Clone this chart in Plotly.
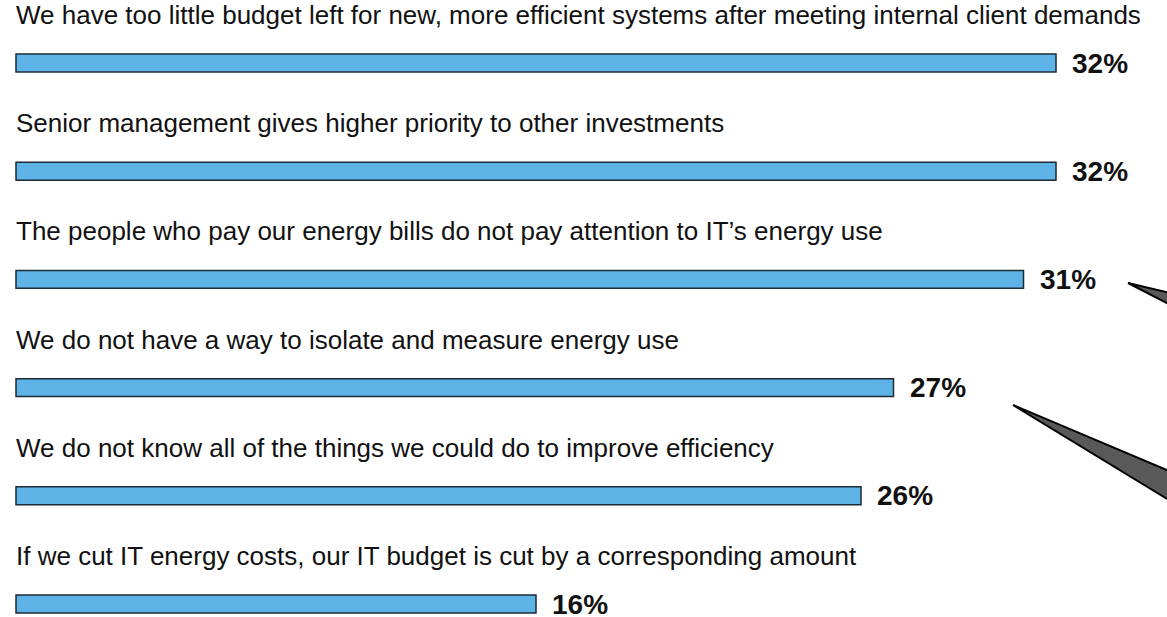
import plotly.graph_objects as go

categories = [
    "We have too little budget left for new, more efficient systems after meeting internal client demands",
    "Senior management gives higher priority to other investments",
    "The people who pay our energy bills do not pay attention to IT\u2019s energy use",
    "We do not have a way to isolate and measure energy use",
    "We do not know all of the things we could do to improve efficiency",
    "If we cut IT energy costs, our IT budget is cut by a corresponding amount",
]
values = [32, 32, 31, 27, 26, 16]
value_labels = ["32%", "32%", "31%", "27%", "26%", "16%"]

W, H = 1167, 617
FONT = "Liberation Sans, Arial, sans-serif"

fig = go.Figure()
fig.add_trace(go.Bar(
    x=values,
    y=categories,
    orientation="h",
    width=0.165,
    marker=dict(color="#5DB3E5", line=dict(color="#1e2a36", width=1.5)),
    hoverinfo="skip",
))

annotations = []
for cat, v, lab in zip(categories, values, value_labels):
    annotations.append(dict(
        x=0, y=cat, xref="x", yref="y", text=cat, showarrow=False,
        xanchor="left", yanchor="middle", yshift=48, xshift=-2,
        font=dict(family=FONT, size=26, color="#111111"),
    ))
    annotations.append(dict(
        x=v, y=cat, xref="x", yref="y", text="<b>" + lab + "</b>", showarrow=False,
        xanchor="left", yanchor="middle", xshift=14, yshift=0,
        font=dict(family=FONT, size=28, color="#111111"),
    ))

def px2paper(pts):
    return " L ".join(f"{x / W:.5f},{1 - y / H:.5f}" for x, y in pts)

wedge1 = [(1128, 283), (1200, 300), (1200, 320)]
wedge2 = [(1013, 405), (1200, 484), (1200, 519)]
shapes = [
    dict(type="path", xref="paper", yref="paper", path="M " + px2paper(w) + " Z",
         fillcolor="#595959", line=dict(color="#000000", width=2), layer="above")
    for w in (wedge1, wedge2)
]

fig.update_layout(
    width=W, height=H,
    margin=dict(l=0, r=0, t=0, b=0),
    paper_bgcolor="white", plot_bgcolor="white",
    showlegend=False,
    xaxis=dict(range=[-16 / 32.5, (W - 16) / 32.5], visible=False, fixedrange=True),
    yaxis=dict(range=[(H - 63) / 108.2, -63 / 108.2], visible=False, fixedrange=True),
    annotations=annotations,
    shapes=shapes,
)

fig.write_html(
    "out.html",
    config={"displayModeBar": False},
    post_script="document.body.style.margin='0';document.body.style.overflow='hidden';",
)
